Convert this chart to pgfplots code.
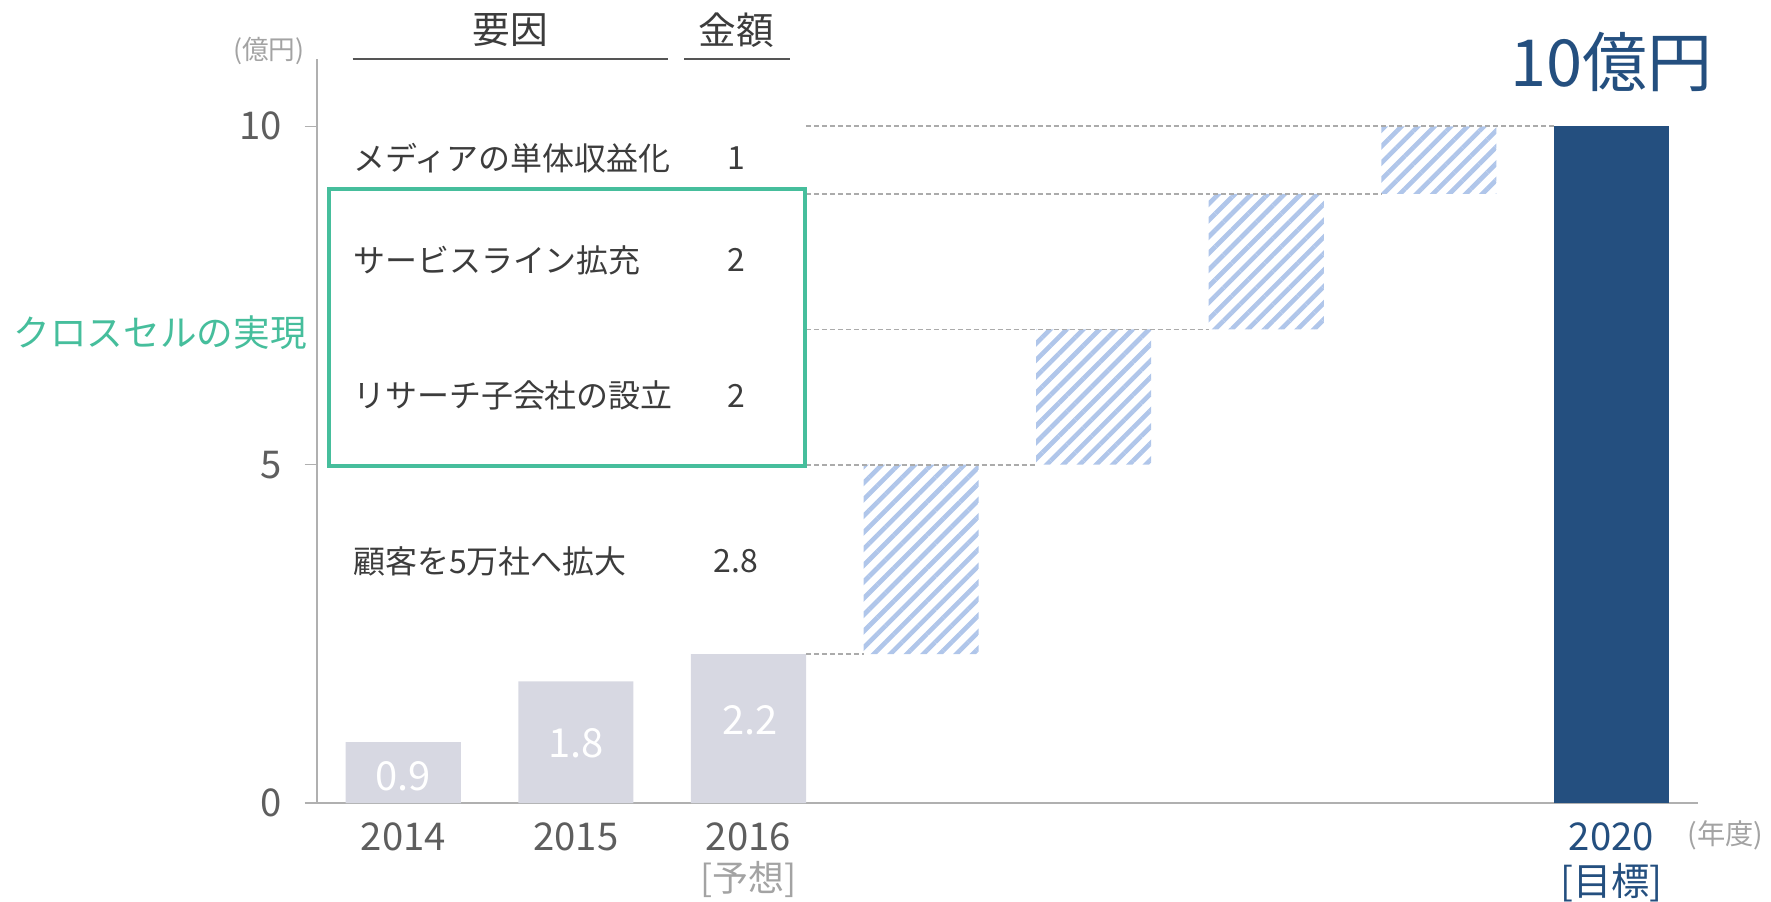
\documentclass[border=0pt]{standalone}
\usepackage{fontspec}
\setmainfont{Noto Sans CJK JP}
\usepackage{pgfplots}
\pgfplotsset{compat=1.18}
\usetikzlibrary{patterns.meta}
\definecolor{txtdark}{HTML}{3C3C3C}
\definecolor{tickgrey}{HTML}{5E5E5E}
\definecolor{lightgrey}{HTML}{A3A3A3}
\definecolor{axisgrey}{HTML}{B0B0B0}
\definecolor{dashgrey}{HTML}{ABABAB}
\definecolor{bargrey}{HTML}{D7D8E2}
\definecolor{navy}{HTML}{244F7F}
\definecolor{hatch}{HTML}{B0C6EA}
\definecolor{teal}{HTML}{46BE9C}
\definecolor{ulgrey}{HTML}{555555}
\newcommand{\fs}[1]{\fontsize{#1}{#1}\selectfont}
\begin{document}
\begin{tikzpicture}
\path[use as bounding box] (-95.2pt,-29.6pt) rectangle (436.7pt,241.2pt);
\begin{axis}[
  at={(0pt,0pt)}, anchor=south west,
  scale only axis, width=414.7pt, height=223.6pt,
  xmin=-0.5, xmax=7.5, ymin=0, ymax=11,
  ybar stacked, bar width=0.6667,
  axis x line*=bottom, axis y line*=left,
  axis line style={draw=axisgrey, line width=0.5pt},
  ytick={0,5,10}, xtick={0,1,2,7},
  xticklabels={2014,2015,2016,\textcolor{navy}{2020}},
  tick align=outside, major tick length=3.7pt,
  xtick style={draw=none},
  ytick style={draw=axisgrey, line width=0.45pt},
  tick label style={font=\fs{11.5}, text=tickgrey},
  yticklabel style={xshift=-3.3pt},
  xticklabel style={yshift=1.3pt},
  /pgf/number format/assume math mode=true,
  clip=false,
]
\addplot[fill=bargrey, draw=none] coordinates {(0,0.9) (1,1.8) (2,2.2) (3,0) (4,0) (5,0) (6,0) (7,0)};
\addplot[fill=none, draw=none] coordinates {(0,0) (1,0) (2,0) (3,2.2) (4,5) (5,7) (6,9) (7,0)};
\addplot[draw=none, pattern={Lines[angle=45,distance=3.5pt,line width=1.4pt]}, pattern color=hatch] coordinates {(0,0) (1,0) (2,0) (3,2.8) (4,2) (5,2) (6,1) (7,0)};
\addplot[fill=navy, draw=none] coordinates {(0,0) (1,0) (2,0) (3,0) (4,0) (5,0) (6,0) (7,10)};
\end{axis}
\begin{axis}[
  at={(0pt,0pt)}, anchor=south west,
  scale only axis, width=414.7pt, height=223.6pt,
  xmin=-0.5, xmax=7.5, ymin=0, ymax=11,
  hide axis, clip=false,
  dashline/.style={no markers, dashgrey, line width=0.5pt, dash pattern=on 1.5pt off 0.9pt},
]
\addplot[dashline] coordinates {(2.333,2.2) (2.667,2.2)};
\addplot[dashline] coordinates {(2.333,5) (3.667,5)};
\addplot[dashline] coordinates {(2.333,7) (4.667,7)};
\addplot[dashline] coordinates {(2.333,9) (5.667,9)};
\addplot[dashline] coordinates {(2.333,10) (6.667,10)};
% bar values
\node[text=white, font=\fs{12}] at (axis cs:0,0.4) {0.9};
\node[text=white, font=\fs{12}] at (axis cs:1,0.88) {1.8};
\node[text=white, font=\fs{12}] at (axis cs:2.01,1.22) {2.2};
% table
\draw[ulgrey, line width=0.65pt] (axis cs:-0.294,11) -- (axis cs:1.536,11);
\draw[ulgrey, line width=0.65pt] (axis cs:1.627,11) -- (axis cs:2.242,11);
\node[text=txtdark, font=\fs{11.3}] at (axis cs:0.62,11.42) {要因};
\node[text=txtdark, font=\fs{11.3}] at (axis cs:1.928,11.42) {金額};
\begin{scope}[every node/.style={text=txtdark, font=\fs{9.6}, inner sep=0pt}]
\node[anchor=west] at (axis cs:-0.294,9.53) {メディアの単体収益化};
\node at (axis cs:1.928,9.53) {1};
\node[anchor=west] at (axis cs:-0.294,8.02) {サービスライン拡充};
\node at (axis cs:1.928,8.02) {2};
\node[anchor=west] at (axis cs:-0.294,6.02) {リサーチ子会社の設立};
\node at (axis cs:1.928,6.02) {2};
\node[anchor=west] at (axis cs:-0.294,3.57) {顧客を5万社へ拡大};
\node at (axis cs:1.928,3.57) {2.8};
\end{scope}
\draw[teal, line width=1.35pt] (axis cs:-0.431,4.98) rectangle (axis cs:2.327,9.07);
\node[anchor=east, text=teal, font=\fs{11}, inner sep=0pt] at (axis cs:-0.556,6.95) {クロスセルの実現};
\node[text=lightgrey, font=\fs{8}] at (axis cs:-0.778,11.12) {(億円)};
\node[text=navy, font=\fs{19.5}] at (axis cs:7.0,10.95) {10億円};
\node[text=lightgrey, font=\fs{10.8}] at (axis cs:2.0,-1.13) {[予想]};
\node[text=navy, font=\fs{11.5}] at (axis cs:7.0,-1.17) {[目標]};
\node[text=lightgrey, font=\fs{8.5}] at (axis cs:7.66,-0.48) {(年度)};
\end{axis}
\end{tikzpicture}
\end{document}
